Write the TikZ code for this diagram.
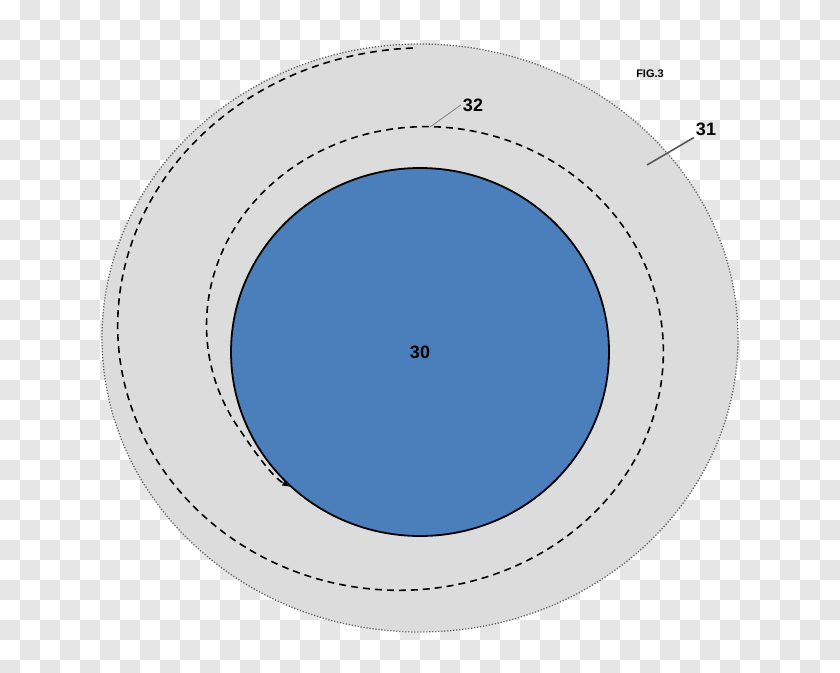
\documentclass[tikz,border=0pt]{standalone}
\usepackage{fontspec}
\setmainfont{Liberation Sans}
\usetikzlibrary{shapes.geometric}
\definecolor{checkgray}{RGB}{230,230,230}
\definecolor{ringgray}{RGB}{220,220,220}
\definecolor{coreblue}{RGB}{75,127,188}
\tikzset{
	numlabel/.style={font=\fontsize{18}{20}\selectfont\bfseries, inner sep=2pt},
	spiralline/.style={line width=1.6pt, dash pattern=on 7pt off 5pt, -latex},
	leader/.style={gray, line width=0.8pt},
}
\begin{document}
\begin{tikzpicture}[x=1pt, y=-1pt]
		\useasboundingbox (0,0) rectangle (840,672);
		% checkerboard background
		\fill[white] (0,0) rectangle (840,672);
		\foreach \i in {0,...,41}{
			\foreach \j in {0,...,33}{
				\pgfmathtruncatemacro{\odd}{mod(\i+\j,2)}
				\ifnum\odd=1
					\fill[checkgray] (20*\i,20*\j) rectangle ++(20,20);
				\fi
			}
		}

		\node[ellipse, minimum width=636pt, minimum height=588pt, fill=ringgray,
			draw=gray!75!black, line width=1.3pt, dash pattern=on 1.2pt off 1.8pt] (ring) at (420,338) {};
		\node[ellipse, minimum width=378pt, minimum height=368pt, fill=coreblue,
			draw=black, line width=1.8pt, numlabel] (core) at (420,352) {30};

		% spiral from the outer top down to the core
		\draw[spiralline] plot[domain=90:570, samples=160, smooth]
			({412.75+(294.75-0.2472*(\x-180))*cos(\x)}, {338.75-(290.75-0.2194*(\x-90))*sin(\x)})
			.. controls (252,448) and (272,477) .. (core.226);

		\coordinate (p32) at (430,127);
		\node[numlabel] (n32) at (473,105) {32};
		\draw[leader] (p32) -- (n32.west);

		\coordinate (p31) at (647,165);
		\node[numlabel] (n31) at (706,129) {31};
		\draw[leader, gray!70!black, line width=1.6pt] (p31) -- (n31.south west);

		\node[font=\fontsize{11}{12}\selectfont\bfseries] (fig) at (650,74) {FIG.3};
	\end{tikzpicture}
\end{document}
